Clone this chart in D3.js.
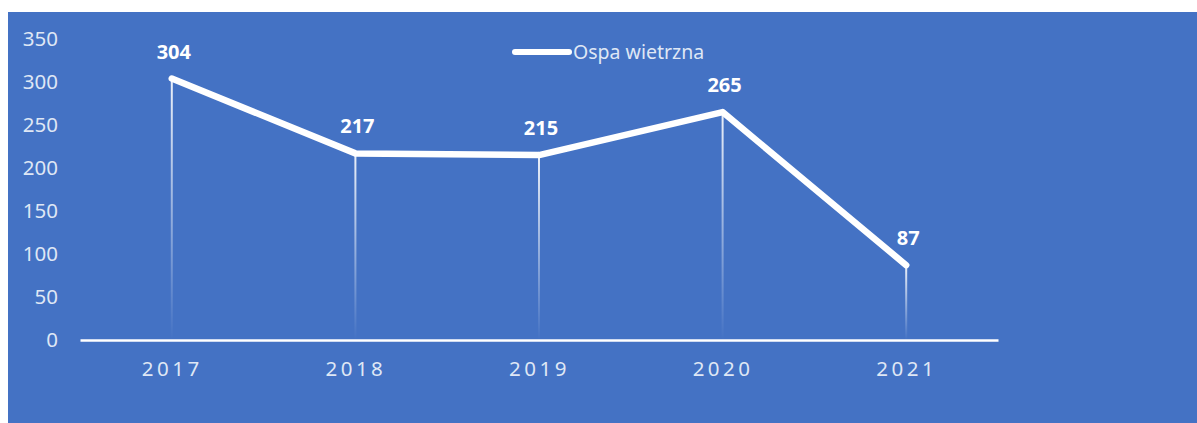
<!DOCTYPE html>
<html>
<head>
<meta charset="utf-8">
<script src="https://cdn.jsdelivr.net/npm/d3@7"></script>
<style>
  html, body { margin: 0; padding: 0; background: #fff; }
  svg { display: block; font-family: "Noto Sans", sans-serif; }
</style>
</head>
<body>
<div class="chart"></div>
<script>
// data
const years = ["2017", "2018", "2019", "2020", "2021"];
const cases = [304, 217, 215, 265, 87];
const yTicks = [0, 50, 100, 150, 200, 250, 300, 350];
const seriesName = "Ospa wietrzna";

const W = 1197, H = 423;
const bg = "#4472C4";
const soft = "#dfe7f5";

const svg = d3.select(".chart").append("svg")
  .attr("width", W).attr("height", H);

// blue card
svg.append("rect")
  .attr("x", 8).attr("y", 12)
  .attr("width", W - 8).attr("height", H - 12)
  .attr("fill", bg);

const x = d3.scalePoint().domain(years).range([80, 998]).padding(0.5);
const y = d3.scaleLinear().domain([0, 350]).range([340, 39]);

// fading drop line
const defs = svg.append("defs");
const grad = defs.append("linearGradient")
  .attr("id", "drop").attr("x1", 0).attr("x2", 0).attr("y1", 0).attr("y2", 1);
grad.append("stop").attr("offset", "0%").attr("stop-color", "#fff").attr("stop-opacity", 0.9);
grad.append("stop").attr("offset", "100%").attr("stop-color", "#fff").attr("stop-opacity", 0);

// y axis, no line, just labels
const yAxis = svg.append("g")
  .attr("transform", "translate(58,0)")
  .call(d3.axisLeft(y).tickValues(yTicks).tickSize(0).tickPadding(0));
yAxis.select(".domain").remove();
yAxis.selectAll("text")
  .attr("fill", soft)
  .attr("font-size", 20.5)
  .attr("font-family", "Noto Sans, sans-serif");

// drop lines
svg.append("g").selectAll("rect")
  .data(years)
  .join("rect")
  .attr("x", d => x(d) - 1)
  .attr("y", (d, i) => y(cases[i]))
  .attr("width", 2)
  .attr("height", (d, i) => y(0) - y(cases[i]))
  .attr("fill", "url(#drop)");

// x axis
const xAxis = svg.append("g")
  .attr("transform", `translate(0,${y(0)})`)
  .call(d3.axisBottom(x).tickSize(0).tickPadding(21));
xAxis.select(".domain")
  .attr("stroke", "#fff").attr("stroke-width", 2.5);
xAxis.selectAll("text")
  .attr("fill", soft)
  .attr("font-size", 20.5)
  .attr("letter-spacing", "3.5px")
  .attr("font-family", "Noto Sans, sans-serif");

// the line itself
const line = d3.line()
  .x((d, i) => x(years[i]))
  .y(d => y(d));

svg.append("path")
  .datum(cases)
  .attr("d", line)
  .attr("fill", "none")
  .attr("stroke", "#fff")
  .attr("stroke-width", 6.5)
  .attr("stroke-linejoin", "round")
  .attr("stroke-linecap", "round");

// value labels
svg.append("g").selectAll("text")
  .data(cases)
  .join("text")
  .attr("x", (d, i) => x(years[i]) + 2)
  .attr("y", d => y(d) - 20)
  .attr("text-anchor", "middle")
  .attr("fill", "#fff")
  .attr("font-size", 20)
  .attr("font-weight", "bold")
  .text(d => d);

// legend
const lg = svg.append("g").attr("transform", "translate(513,52)");
lg.append("line")
  .attr("x1", 2).attr("x2", 56)
  .attr("stroke", "#fff").attr("stroke-width", 6)
  .attr("stroke-linecap", "round");
lg.append("text")
  .attr("x", 60).attr("y", 7)
  .attr("fill", soft)
  .attr("font-size", 19.5)
  .text(seriesName);
</script>
</body>
</html>
